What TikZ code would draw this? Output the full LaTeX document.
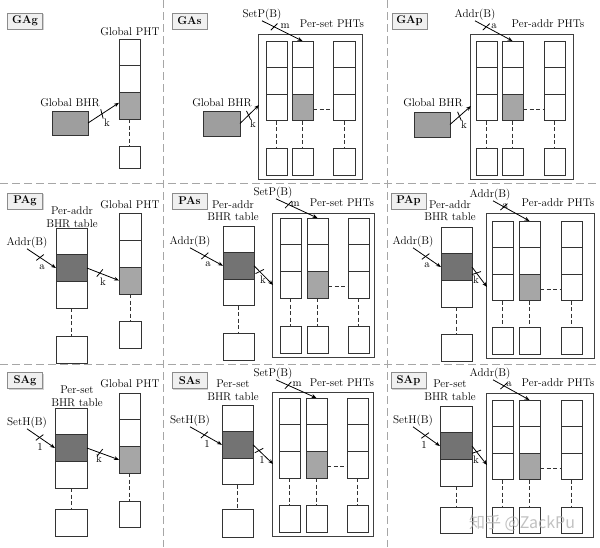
\documentclass[tikz,border=0pt]{standalone}
\usepackage{fontspec}
\newfontfamily\cjkfont{Noto Sans CJK SC}
\usetikzlibrary{arrows.meta,decorations.markings,shadows}
\tikzset{
  cellbox/.style={draw=black!80, line width=0.85pt, fill=white, inner sep=0pt, outer sep=0pt},
  nofill/.style={},
  litegray/.style={fill=black!35},
  darkgray/.style={fill=black!55},
  bhrbox/.style={draw=black!80, line width=0.85pt, fill=black!38, inner sep=0pt, outer sep=0pt},
  obox/.style={draw=black!75, line width=1pt, inner sep=0pt, outer sep=0pt},
  dashline/.style={draw=black!80, line width=0.8pt, dash pattern=on 4pt off 2.5pt},
  divider/.style={draw=black!35, line width=0.8pt, dash pattern=on 8pt off 4pt},
  txt/.style={inner sep=0pt, font=\fontsize{11.2}{12.5}\selectfont, align=center},
  tl/.style={inner sep=0pt, font=\fontsize{10.8}{12}\selectfont},
  lbl/.style={draw=black!45, fill=black!6, line width=0.6pt, minimum width=35pt, minimum height=16pt,
    inner sep=0pt, font=\fontsize{11.2}{12}\selectfont\bfseries,
    drop shadow={shadow xshift=1pt, shadow yshift=-1.2pt, opacity=0.35}},
  arr/.style={-{Stealth[length=5pt,width=3.8pt]}, line width=0.8pt, draw=black},
  xmark/.style={postaction={decorate,decoration={markings,
      mark=at position #1 with {\draw[arrows=-,line width=0.8pt,solid] (-1.5pt,-4.5pt) -- (1.5pt,4.5pt);}}}}
}
% column: name, x, ytop, width, cell height, style cell 2, style cell 3, bottom box top, bottom box height
\newcommand{\tcol}[9]{%
  \node[cellbox,minimum width=#4pt,minimum height=#5pt,anchor=north west] (#1-1) at (#2,#3) {};
  \node[cellbox,#6,minimum width=#4pt,minimum height=#5pt,anchor=north] (#1-2) at (#1-1.south) {};
  \node[cellbox,#7,minimum width=#4pt,minimum height=#5pt,anchor=north] (#1-3) at (#1-2.south) {};
  \node[cellbox,minimum width=#4pt,minimum height=#9pt,anchor=north west] (#1-b) at (#2,#8) {};
  \draw[dashline] (#1-3.south) -- (#1-b.north);
}
\begin{document}
\begin{tikzpicture}[x=1pt,y=-1pt]
\useasboundingbox (0,0) rectangle (600,547);
\fill[white] (0,0) rectangle (600,547);
% dividers
\draw[divider] (163.5,0) -- (163.5,547);
\draw[divider] (387.5,0) -- (387.5,547);
\draw[divider] (0,183) -- (600,183);
\draw[divider] (0,364.5) -- (600,364.5);

% ---------------- GAg
\node[lbl] (gag) at (25,21) {GAg};
\node[txt] (gag-pt) at (130,32) {Global PHT};
\tcol{gag-p}{119}{39}{21}{26.7}{nofill}{litegray}{146}{22}
\node[bhrbox, minimum width=36pt, minimum height=24pt, anchor=north west] (gag-r) at (52,111) {};
\node[txt] (gag-rt) at (70,103) {Global BHR};
\draw[arr, xmark=0.45] (gag-r.east) -- ([yshift=3pt]gag-p-3.west);
\node[tl] (gag-k) at (107,123) {k};

% ---------------- GAs
\node[lbl] (gas) at (189.5,21) {GAs};
\node[obox, minimum width=104pt, minimum height=145pt, anchor=north west] (gas-box) at (258,34) {};
\tcol{gas-c1}{266}{41}{21}{26.5}{nofill}{nofill}{148}{27}
\tcol{gas-c2}{292}{41}{21}{26.5}{nofill}{litegray}{148}{27}
\tcol{gas-c3}{333}{41}{22}{26.5}{nofill}{nofill}{148}{27}
\draw[dashline] ([yshift=-2pt]gas-c2-3.east) -- ([yshift=-2pt]gas-c3-3.west);
\node[txt] (gas-pt) at (332,24) {Per-set PHTs};
\node[txt] (gas-sp) at (262,15) {SetP(B)};
\draw[arr, xmark=0.3] (gas-sp.south) -- (gas-c2-1.north);
\node[tl] (gas-m) at (285,26) {m};
\node[bhrbox, minimum width=37pt, minimum height=25pt, anchor=north west] (gas-r) at (203,111) {};
\node[txt] (gas-rt) at (222,103) {Global BHR};
\coordinate (gas-in) at (259,105);
\draw[arr, xmark=0.45] (gas-r.east) -- (gas-in);
\node[tl] (gas-k) at (253,124) {k};

% ---------------- GAp
\node[lbl] (gap) at (409.5,21) {GAp};
\node[obox, minimum width=103pt, minimum height=145pt, anchor=north west] (gap-box) at (470,34) {};
\tcol{gap-c1}{476}{41}{21}{26.5}{nofill}{nofill}{148}{27}
\tcol{gap-c2}{502}{41}{21}{26.5}{nofill}{litegray}{148}{27}
\tcol{gap-c3}{544}{41}{21}{26.5}{nofill}{nofill}{148}{27}
\draw[dashline] ([yshift=-2pt]gap-c2-3.east) -- ([yshift=-2pt]gap-c3-3.west);
\node[txt] (gap-pt) at (548,24) {Per-addr PHTs};
\node[txt] (gap-ad) at (475,15) {Addr(B)};
\draw[arr, xmark=0.3] (gap-ad.south) -- (gap-c2-1.north);
\node[tl] (gap-a) at (494,26) {a};
\node[bhrbox, minimum width=36pt, minimum height=25pt, anchor=north west] (gap-r) at (414,112) {};
\node[txt] (gap-rt) at (433,103) {Global BHR};
\coordinate (gap-in) at (471,106);
\draw[arr, xmark=0.45] (gap-r.east) -- (gap-in);
\node[tl] (gap-k) at (464,125) {k};

% ---------------- PAg
\node[lbl] (pag) at (25,201) {PAg};
\node[txt] (pag-bt) at (72,217) {Per-addr\\BHR table};
\node[txt] (pag-pt) at (130,205) {Global PHT};
\tcol{pag-h}{56}{228}{31}{26.7}{darkgray}{nofill}{336}{27}
\tcol{pag-p}{119}{213}{22}{27}{nofill}{litegray}{321}{27}
\node[txt] (pag-ad) at (27,243) {Addr(B)};
\draw[arr, xmark=0.45] (pag-ad.south) -- (pag-h-2.west);
\node[tl] (pag-a) at (42,267) {a};
\draw[arr, xmark=0.4] (pag-h-2.east) -- (pag-p-3.west);
\node[tl] (pag-k) at (103,282) {k};

% ---------------- PAs
\node[lbl] (pas) at (189.5,201) {PAs};
\node[txt] (pas-bt) at (233,210.5) {Per-addr\\BHR table};
\tcol{pas-h}{223}{226}{31}{26.5}{darkgray}{nofill}{333}{27}
\node[txt] (pas-ad) at (190,242) {Addr(B)};
\draw[arr, xmark=0.45] (pas-ad.south) -- (pas-h-2.west);
\node[tl] (pas-a) at (208,264) {a};
\node[obox, minimum width=102pt, minimum height=144pt, anchor=north west] (pas-box) at (272,213) {};
\tcol{pas-c1}{280}{218}{21}{26.7}{nofill}{nofill}{326}{27}
\tcol{pas-c2}{307}{218}{21}{26.7}{nofill}{litegray}{326}{27}
\tcol{pas-c3}{348}{218}{21}{26.7}{nofill}{nofill}{326}{27}
\draw[dashline] ([yshift=-2pt]pas-c2-3.east) -- ([yshift=-2pt]pas-c3-3.west);
\coordinate (pas-in) at (273,285);
\draw[arr, xmark=0.3] (pas-h-2.east) -- (pas-in);
\node[tl] (pas-k) at (263,280) {k};
\node[txt] (pas-sp) at (273,193) {SetP(B)};
\draw[arr, xmark=0.3] ([xshift=3pt]pas-sp.south) -- (pas-c2-1.north);
\node[tl] (pas-m) at (295,204) {m};
\node[txt] (pas-pt) at (342,203) {Per-set PHTs};

% ---------------- PAp
\node[lbl] (pap) at (408.5,201) {PAp};
\node[txt] (pap-bt) at (450,210.5) {Per-addr\\BHR table};
\tcol{pap-h}{441}{227}{31}{26.7}{darkgray}{nofill}{334}{27}
\node[txt] (pap-ad) at (413,242) {Addr(B)};
\draw[arr, xmark=0.45] (pap-ad.south) -- (pap-h-2.west);
\node[tl] (pap-a) at (427,265) {a};
\node[obox, minimum width=108pt, minimum height=145pt, anchor=north west] (pap-box) at (486,213) {};
\tcol{pap-c1}{492}{221}{21}{26.5}{nofill}{nofill}{327}{27}
\tcol{pap-c2}{519}{221}{21}{26.5}{nofill}{litegray}{327}{27}
\tcol{pap-c3}{561}{221}{21}{26.5}{nofill}{nofill}{327}{27}
\draw[dashline] ([yshift=-2pt]pap-c2-3.east) -- ([yshift=-2pt]pap-c3-3.west);
\coordinate (pap-in) at (487,287);
\draw[arr, xmark=0.3] (pap-h-2.east) -- (pap-in);
\node[tl] (pap-k) at (476,280) {k};
\node[txt] (pap-ad2) at (490,195) {Addr(B)};
\draw[arr, xmark=0.3] ([xshift=3pt]pap-ad2.south) -- (pap-c2-1.north);
\node[tl] (pap-a2) at (505,206) {a};
\node[txt] (pap-pt) at (558,203) {Per-addr PHTs};

% ---------------- SAg
\node[lbl] (sag) at (25,380.5) {SAg};
\node[txt] (sag-bt) at (77,396.5) {Per-set\\BHR table};
\node[txt] (sag-pt) at (130,384) {Global PHT};
\tcol{sag-h}{55}{408}{32}{26.7}{darkgray}{nofill}{509}{27}
\tcol{sag-p}{119}{393}{21}{26.7}{nofill}{litegray}{501}{26}
\node[txt] (sag-sh) at (27,423) {SetH(B)};
\draw[arr, xmark=0.45] (sag-sh.south) -- (sag-h-2.west);
\node[tl] (sag-1) at (40,447) {1};
\draw[arr, xmark=0.4] (sag-h-2.east) -- (sag-p-3.west);
\node[tl] (sag-k) at (99,459) {k};

% ---------------- SAs
\node[lbl] (sas) at (189.5,380.5) {SAs};
\node[txt] (sas-bt) at (233,390.5) {Per-set\\BHR table};
\tcol{sas-h}{222}{405}{31}{26.5}{darkgray}{nofill}{509}{28}
\node[txt] (sas-sh) at (190,421) {SetH(B)};
\draw[arr, xmark=0.45] (sas-sh.south) -- (sas-h-2.west);
\node[tl] (sas-1) at (207,444) {1};
\node[obox, minimum width=101pt, minimum height=144pt, anchor=north west] (sas-box) at (272,392) {};
\tcol{sas-c1}{279}{398}{21}{26.7}{nofill}{nofill}{505}{27}
\tcol{sas-c2}{306}{398}{21}{26.7}{nofill}{litegray}{505}{27}
\tcol{sas-c3}{347}{398}{21}{26.7}{nofill}{nofill}{505}{27}
\draw[dashline] ([yshift=-2pt]sas-c2-3.east) -- ([yshift=-2pt]sas-c3-3.west);
\coordinate (sas-in) at (273,464);
\draw[arr, xmark=0.3] (sas-h-2.east) -- (sas-in);
\node[tl] (sas-k) at (262,460) {1};
\node[txt] (sas-sp) at (273,374) {SetP(B)};
\draw[arr, xmark=0.3] ([xshift=3pt]sas-sp.south) -- (sas-c2-1.north);
\node[tl] (sas-m) at (297,384) {m};
\node[txt] (sas-pt) at (342,383) {Per-set PHTs};

% ---------------- SAp
\node[lbl] (sap) at (408.5,380.5) {SAp};
\node[txt] (sap-bt) at (450,390.5) {Per-set\\BHR table};
\tcol{sap-h}{440}{406}{32}{26.7}{darkgray}{nofill}{507}{26}
\node[txt] (sap-sh) at (413,421) {SetH(B)};
\draw[arr, xmark=0.45] (sap-sh.south) -- (sap-h-2.west);
\node[tl] (sap-1) at (424,445) {1};
\node[obox, minimum width=107pt, minimum height=144pt, anchor=north west] (sap-box) at (486,393) {};
\tcol{sap-c1}{492}{400}{21}{26.5}{nofill}{nofill}{507}{26}
\tcol{sap-c2}{519}{400}{21}{26.5}{nofill}{litegray}{507}{26}
\tcol{sap-c3}{561}{400}{21}{26.5}{nofill}{nofill}{507}{26}
\draw[dashline] ([yshift=-2pt]sap-c2-3.east) -- ([yshift=-2pt]sap-c3-3.west);
\coordinate (sap-in) at (487,465);
\draw[arr, xmark=0.3] (sap-h-2.east) -- (sap-in);
\node[tl] (sap-k) at (476,460) {k};
\node[txt] (sap-ad) at (490,374) {Addr(B)};
\draw[arr, xmark=0.3] ([xshift=3pt]sap-ad.south) -- (sap-c2-1.north);
\node[tl] (sap-a) at (509,384) {a};
\node[txt] (sap-pt) at (558,383) {Per-addr PHTs};

% watermark
\node[inner sep=0pt, text=black!30, opacity=0.8, font=\cjkfont\fontsize{16}{18}\selectfont] (wm) at (522,523) {知乎 @ZackPu};
\end{tikzpicture}
\end{document}
